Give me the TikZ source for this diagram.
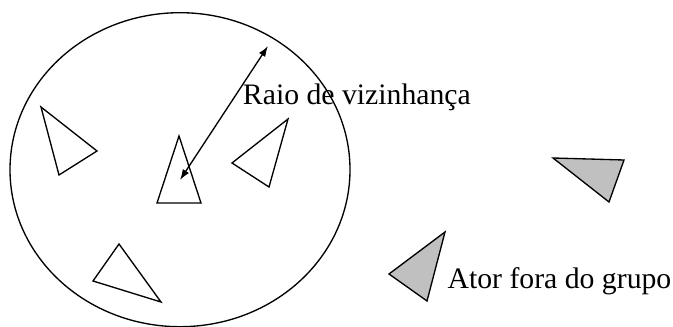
\documentclass[tikz,border=0pt]{standalone}
\usepackage{fontspec}
\setmainfont{Liberation Serif}
\usetikzlibrary{arrows.meta, positioning}
\definecolor{outgray}{HTML}{C0C0C0}

\begin{document}
\begin{tikzpicture}[x=0.75pt, y=-0.75pt,
    actor/.style={draw=black, line width=1pt, line join=miter},
    outsider/.style={actor, fill=outgray},
    group/.style={draw=black, line width=1pt},
    caption/.style={anchor=base west, inner sep=0pt,
                    font=\fontsize{22.3}{26}\selectfont},
    radius/.style={{Latex[length=8pt, width=5.5pt]}-{Latex[length=8pt, width=5.5pt]},
                   line width=1pt}
]
\useasboundingbox (0,0) rectangle (673,327);

% neighbourhood
\draw[group] (180,169.7) ellipse [x radius=170, y radius=157];

% actors inside the group
\draw[actor] (41,107) -- (97,151) -- (59,175) -- cycle;
\draw[actor] (179,136) -- (157,203) -- (201,203) -- cycle;
\draw[actor] (288,119) -- (232,163) -- (269,187) -- cycle;
\draw[actor] (119,244) -- (93,281) -- (161,302) -- cycle;

% actors outside the group
\draw[outsider] (553,158) -- (624,160) -- (609,202) -- cycle;
\draw[outsider] (445,232) -- (389,274) -- (427,301) -- cycle;

% radius
\coordinate (centre) at (180,180);
\coordinate (rim) at (268,46);
\draw[radius] (centre) -- (rim);

\node[caption] (raio) at (242.7,105) {Raio de vizinhança};
\node[caption] (fora) at (447.3,288) {Ator fora do grupo};
\end{tikzpicture}
\end{document}
